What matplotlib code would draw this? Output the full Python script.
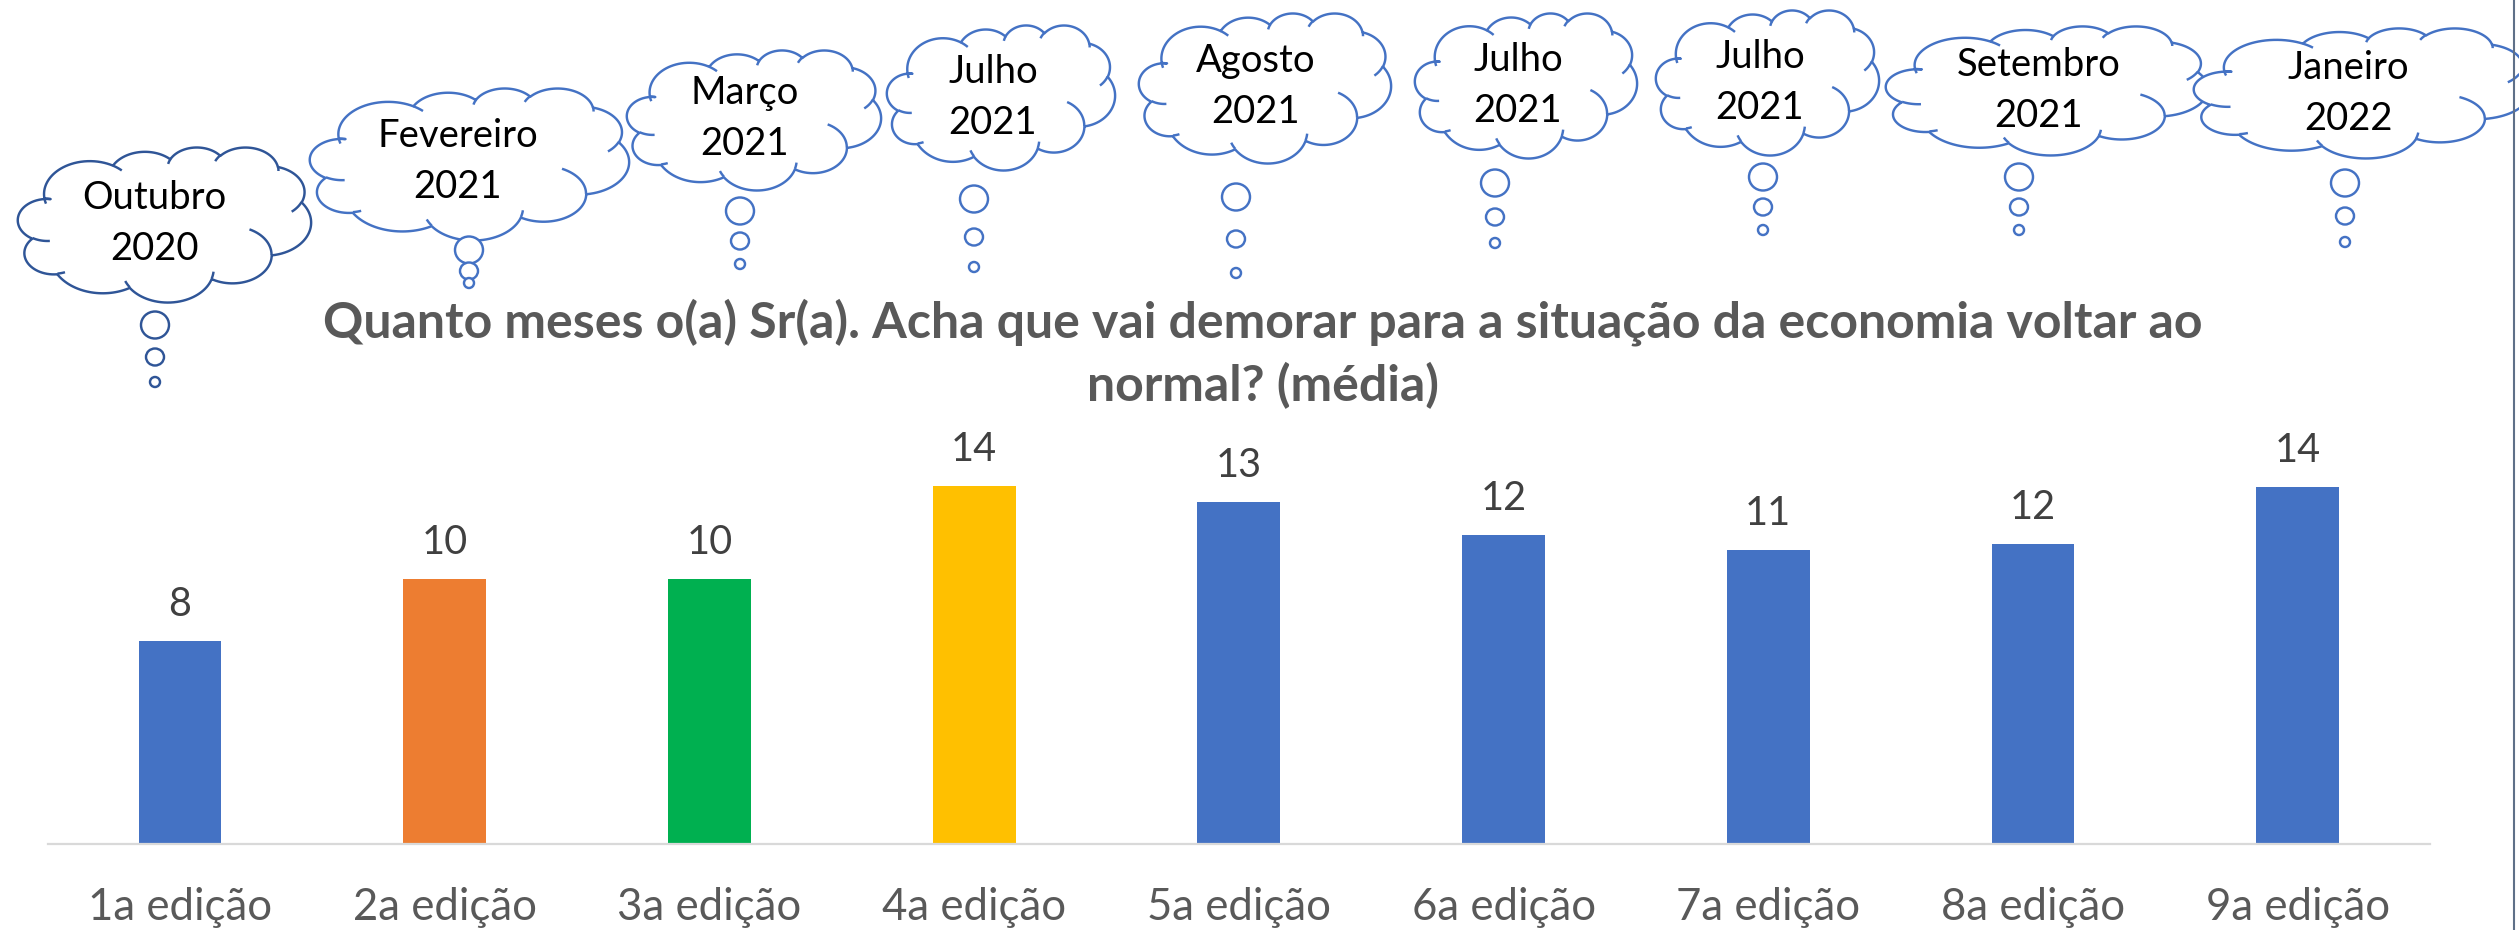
import numpy as np
import matplotlib
matplotlib.use("Agg")
import matplotlib.pyplot as plt
from matplotlib.patches import Ellipse, Polygon

plt.rcParams['font.family'] = ['Lato', 'DejaVu Sans']

# data
editions = ["1a edição", "2a edição", "3a edição", "4a edição", "5a edição",
            "6a edição", "7a edição", "8a edição", "9a edição"]
media = [7.85, 10.24, 10.24, 13.83, 13.2, 11.93, 11.35, 11.61, 13.78]
months = ["Outubro", "Fevereiro", "Março", "Julho", "Agosto",
          "Julho", "Julho", "Setembro", "Janeiro"]
years = ["2020", "2021", "2021", "2021", "2021", "2021", "2021", "2021", "2022"]
title = ("Quanto meses o(a) Sr(a). Acha que vai demorar para a situação da economia voltar ao\n"
         "normal? (média)")

bar_colors = ["#4472C4", "#ED7D31", "#00B050", "#FFC000", "#4472C4",
              "#4472C4", "#4472C4", "#4472C4", "#4472C4"]

# cloud layout in figure pixels: x0, x1, y0, y1, text x, first baseline, bubble x, bubble ys
cloud_boxes = [
    (18, 311, 147, 302, 154, 209, 155, (325, 357, 382)),
    (310, 629, 88, 240, 458, 147, 469, (250, 271, 283)),
    (627, 881, 50, 190, 745, 104, 740, (211, 241, 264)),
    (887, 1115, 25, 170, 993, 83, 974, (199, 237, 267)),
    (1139, 1391, 13, 163, 1256, 72, 1236, (197, 239, 273)),
    (1415, 1637, 13, 158, 1518, 71, 1495, (183, 217, 243)),
    (1656, 1879, 10, 155, 1760, 68, 1763, (177, 207, 230)),
    (1886, 2208, 26, 155, 2039, 76, 2019, (177, 207, 230)),
    (2194, 2530, 28, 158, 2348, 79, 2345, (183, 216, 242)),
]
bubble_sizes = [(14, 13.5), (9, 8.5), (5, 5)]

# cloud outline, office-style, in a 43200 box
CLOUD_START = (3900, 14370)
CLOUD_OUTER = [
    (6753, 9190, -11429249, 7426832),
    (5333, 7267, -8646143, 5396714),
    (4365, 5945, -8748475, 5983381),
    (4857, 6595, -7859164, 7034504),
    (5333, 7273, -4722533, 6541615),
    (6775, 9220, -2776035, 7816140),
    (5785, 7867, 37501, 6842000),
    (6752, 9215, 1347096, 6910353),
    (7720, 10543, 3974558, 4542661),
    (4360, 5918, -16496525, 8804134),
    (4345, 5945, -14809710, 9700436),
]
CLOUD_INNER = [
    ((4693, 26177), 4345, 5945, 5204520, 1585770),
    ((6928, 34899), 4360, 5918, 4416628, 686848),
    ((16478, 39090), 6752, 9215, 8257449, 844866),
    ((28827, 34751), 6752, 9215, 387196, 959901),
    ((34129, 22954), 5785, 7867, -4217541, 4255042),
    ((41798, 15354), 5333, 7273, 1819082, 1665090),
    ((38324, 5426), 4857, 6595, -824660, 891877),
    ((29078, 3952), 4857, 6595, -8950887, 1091880),
    ((22141, 4720), 4365, 5945, -9809656, 1061319),
    ((14000, 5192), 6753, 9190, -4002417, 739161),
    ((4127, 15789), 6753, 9190, 9459261, 711490),
]


def arc(px, py, wr, hr, st, sw, n=40):
    st = np.radians(st / 60000.0)
    sw = np.radians(sw / 60000.0)
    t0 = np.arctan2(wr * np.sin(st), hr * np.cos(st))
    cx = px - wr * np.cos(t0)
    cy = py - hr * np.sin(t0)
    th = np.linspace(st, st + sw, n)
    t = np.unwrap(np.arctan2(wr * np.sin(th), hr * np.cos(th)))
    return cx + wr * np.cos(t), cy + hr * np.sin(t)


def draw_cloud(ax, x0, x1, y0, y1, color, z):
    sx = (x1 - x0) / 43200.0
    sy = (y1 - y0) / 43200.0
    px, py = CLOUD_START
    xs, ys = [px], [py]
    for wr, hr, st, sw in CLOUD_OUTER:
        ax_, ay_ = arc(px, py, wr, hr, st, sw)
        xs.extend(ax_[1:])
        ys.extend(ay_[1:])
        px, py = ax_[-1], ay_[-1]
    pts = np.column_stack([x0 + np.array(xs) * sx, y0 + np.array(ys) * sy])
    ax.add_patch(Polygon(pts, closed=True, facecolor="white", edgecolor=color,
                         lw=1.75, joinstyle="round", zorder=z))
    for (qx, qy), wr, hr, st, sw in CLOUD_INNER:
        ax_, ay_ = arc(qx, qy, wr, hr, st, sw, n=20)
        ax.plot(x0 + ax_ * sx, y0 + ay_ * sy, color=color, lw=1.75,
                solid_capstyle="butt", zorder=z + 0.5)


fig = plt.figure(figsize=(25.19, 9.30), dpi=100)

ax = fig.add_axes([0.0189, 0.0921, 0.9458, 0.5848])
x = np.arange(len(media))
bars = ax.bar(x, media, width=0.313, color=bar_colors)
ax.set_xlim(-0.5, 8.5)
ax.set_ylim(0, 21)
for s in ["top", "right", "left"]:
    ax.spines[s].set_visible(False)
ax.spines["bottom"].set_color("#D9D9D9")
ax.spines["bottom"].set_linewidth(1.6)
ax.set_yticks([])
ax.set_xticks(x, editions)
ax.tick_params(axis="x", length=0, pad=31, labelsize=31.5, labelcolor="#595959")
for b, v in zip(bars, media):
    ax.annotate("{:.0f}".format(v), (b.get_x() + b.get_width() / 2, v),
                xytext=(0, 18), textcoords="offset points",
                ha="center", va="baseline", fontsize=28.5, color="#404040")

lines = title.split("\n")
fig.text(1263 / 2519, 1 - 337 / 930, lines[0], ha="center", va="baseline",
         fontsize=36, fontweight="bold", color="#595959")
fig.text(1263 / 2519, 1 - 401 / 930, lines[1], ha="center", va="baseline",
         fontsize=36, fontweight="bold", color="#595959")

# overlay in pixel coordinates for the thought clouds
ov = fig.add_axes([0, 0, 1, 1])
ov.set_xlim(0, 2519)
ov.set_ylim(930, 0)
ov.axis("off")
for i, (box, m, yr) in enumerate(zip(cloud_boxes, months, years)):
    x0, x1, y0, y1, tx, base, bx, bys = box
    color = "#2F5597" if i == 0 else "#4472C4"
    draw_cloud(ov, x0, x1, y0, y1, color, 2 + 2 * i)
    for by, (rx, ry) in zip(bys, bubble_sizes):
        ov.add_patch(Ellipse((bx, by), 2 * rx, 2 * ry, facecolor="white",
                             edgecolor=color, lw=1.75, zorder=2 + 2 * i))
    ov.text(tx, base, m, ha="center", va="baseline", fontsize=27.5, color="black", zorder=40)
    ov.text(tx, base + 51, yr, ha="center", va="baseline", fontsize=27.5, color="black", zorder=40)

ov.plot([2514, 2514], [0, 930], color="#5F7088", lw=1.5, zorder=41)

fig.savefig("out.png", dpi=100)
